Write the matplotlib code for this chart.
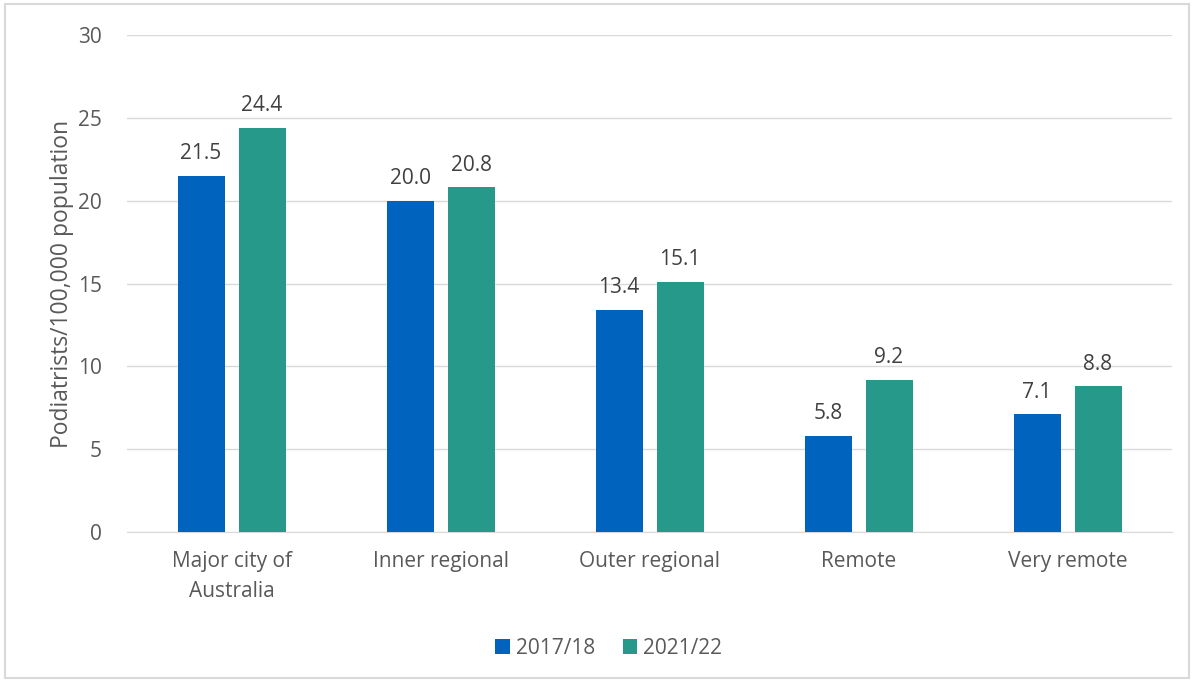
import numpy as np
import matplotlib.pyplot as plt
from matplotlib.patches import Rectangle

categories = ["Major city of\nAustralia", "Inner regional", "Outer regional", "Remote", "Very remote"]
series_names = ["2017/18", "2021/22"]
values_1718 = [21.5, 20.0, 13.4, 5.8, 7.1]
values_2122 = [24.4, 20.8, 15.1, 9.2, 8.8]
yticks = [0, 5, 10, 15, 20, 25, 30]

colors = ["#0063BE", "#26998A"]
text_color = "#595959"
plt.rcParams['font.family'] = ['Open Sans', 'DejaVu Sans']

fig = plt.figure(figsize=(11.94, 6.81), dpi=100)
ax = fig.add_axes([0.1064, 0.2188, 0.8752, 0.7298])

x = np.arange(len(categories))
w = 0.225
off = 0.146
for vals, dx, c, name in [(values_1718, -off, colors[0], series_names[0]),
                          (values_2122, off, colors[1], series_names[1])]:
    bars = ax.bar(x + dx, vals, w, color=c, label=name, zorder=3)
    for b, v in zip(bars, vals):
        ax.text(b.get_x() + b.get_width() / 2, v + 0.7, f"{v:.1f}",
                ha="center", va="bottom", fontsize=15, color="#404040")

ax.set_xlim(-0.5, len(categories) - 0.5)
ax.set_ylim(0, 30)
ax.set_yticks(yticks)
ax.set_xticks(x)
ax.set_xticklabels(categories, fontsize=15, color=text_color, linespacing=1.55)
ax.tick_params(axis="y", labelsize=15, labelcolor=text_color, length=0, pad=18)
ax.tick_params(axis="x", length=0, pad=14)
ax.grid(axis="y", color="#D9D9D9", linewidth=1, zorder=0)
for s in ["top", "right", "left"]:
    ax.spines[s].set_visible(False)
ax.spines["bottom"].set_color("#D9D9D9")
ax.set_ylabel("Podiatrists/100,000 population", fontsize=16.5, color=text_color, labelpad=3)

fig.legend(loc="center", bbox_to_anchor=(0.51, 0.048), ncol=2, frameon=False,
           fontsize=15, labelcolor=text_color, handlelength=0.7, handleheight=0.7,
           handletextpad=0.3, columnspacing=1.3)

fig.add_artist(Rectangle((0.004, 0.004), 0.992, 0.99, transform=fig.transFigure,
                         fill=False, edgecolor="#D9D9D9", linewidth=1.5))

fig.savefig("out.png", dpi=100)
